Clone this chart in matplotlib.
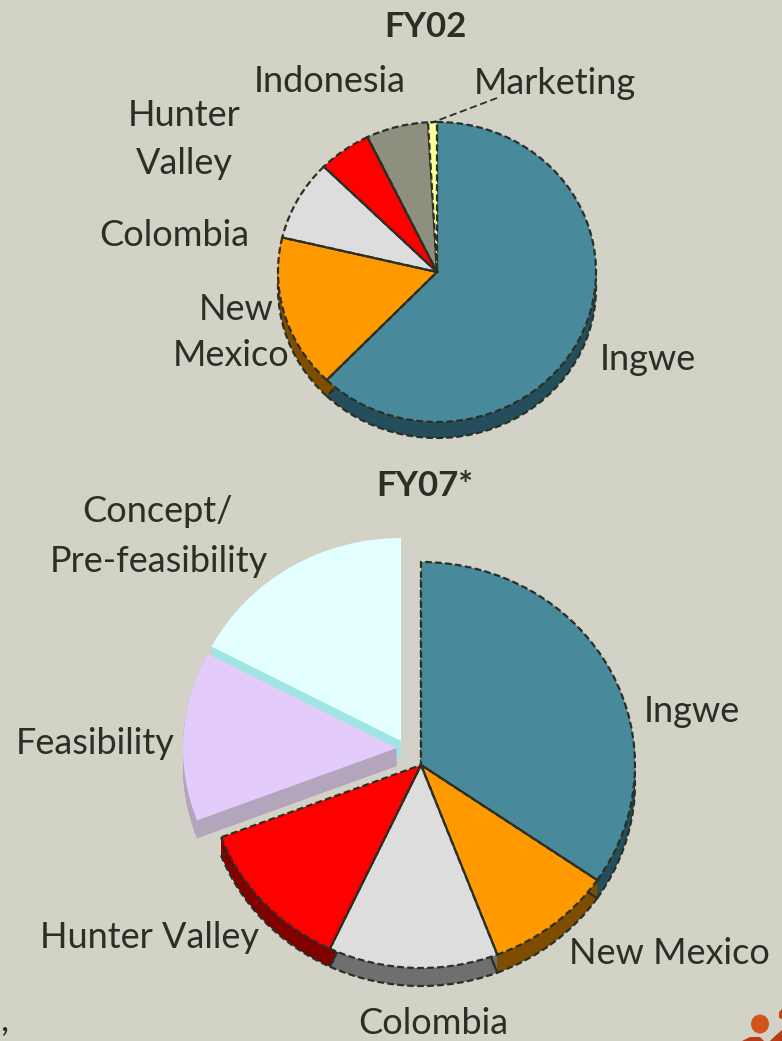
import matplotlib
matplotlib.use('Agg')
import matplotlib.pyplot as plt
from matplotlib.patches import Wedge, Ellipse, Polygon
import numpy as np

W, H = 782, 1041
bg = '#D2D2C6'
ink = '#2B2F24'
dash = (0, (3.0, 1.5))

plt.rcParams['font.family'] = ['Lato', 'Liberation Sans', 'DejaVu Sans']

# FY02 shares, clockwise from 12 o'clock
fy02_labels = ['Ingwe', 'New Mexico', 'Colombia', 'Hunter Valley', 'Indonesia', 'Marketing']
fy02_values = [62.2, 16.5, 8.7, 5.4, 6.3, 0.9]
fy02_colors = ['#488A9C', '#FF9900', '#DDDDDD', '#FF0000', '#8F8F7F', '#FFFF99']
fy02_sides = ['#244E5B', '#7F4D00', '#6F6F6F', '#800000', '#484840', '#808050']

# FY07 shares, clockwise from 12 o'clock
fy07_labels = ['Ingwe', 'New Mexico', 'Colombia', 'Hunter Valley', 'Feasibility', 'Concept/Pre-feasibility']
fy07_values = [34.6, 9.6, 12.8, 12.2, 13.5, 17.3]
fy07_colors = ['#488A9C', '#FF9900', '#DDDDDD', '#FF0000', '#E3CCFB', '#E3FFFF']
fy07_sides = ['#244E5B', '#7F4D00', '#6F6F6F', '#800000', '#B3A5BC', '#9EE6E3']


def pie_axes(fig, cx, cy, rx, ry):
    # axes whose -1..1 box is the top face of the pie
    ax = fig.add_axes([(cx - rx) / W, 1 - (cy + ry) / H, 2 * rx / W, 2 * ry / H])
    ax.set_xlim(-1, 1)
    ax.set_ylim(-1, 1)
    ax.axis('off')
    return ax


def draw_slice(ax, t1, t2, color, side, depth, dx=0, dy=0, outline=True):
    # t1, t2 are degrees clockwise from the top
    a1, a2 = 90 - t2, 90 - t1
    for d in np.linspace(depth, 0.002, 30):
        ax.add_patch(Wedge((dx, dy - d), 1, a1, a2, fc=side, ec='none', clip_on=False, zorder=1))
    if outline:
        ax.add_patch(Wedge((dx, dy - depth), 1, a1, a2, fc='none', ec=ink, lw=1.6,
                           ls=dash, clip_on=False, zorder=1.5))
    ax.add_patch(Wedge((dx, dy), 1, a1, a2, fc=color, ec=ink if outline else 'none',
                       lw=1.6, ls=dash, clip_on=False, zorder=2))


def edges(values):
    cum = np.cumsum([0] + list(values))
    return cum / cum[-1] * 360


def spokes(ax, angles):
    for t in angles:
        r = np.radians(t)
        ax.plot([0, np.sin(r)], [0, np.cos(r)], color=ink, lw=1.5, zorder=3, clip_on=False)


fig = plt.figure(figsize=(W / 100, H / 100), dpi=100, facecolor=bg)

# top pie
ax1 = pie_axes(fig, 437, 272, 159, 150)
e1 = edges(fy02_values)
for i in range(len(fy02_values)):
    draw_slice(ax1, e1[i], e1[i + 1], fy02_colors[i], fy02_sides[i], 16 / 150)
spokes(ax1, e1[1:-2])

# bottom pie, last two slices pulled out and drawn without outline
ax2 = pie_axes(fig, 421, 765, 214, 203)
e2 = edges(fy07_values)
offsets = [(0, 0), (0, 0), (0, 0), (0, 0), (-24 / 214, 17 / 203), (-20 / 214, 24 / 203)]
for i in [5, 4, 0, 1, 2, 3]:
    dx, dy = offsets[i]
    draw_slice(ax2, e2[i], e2[i + 1], fy07_colors[i], fy07_sides[i], 18 / 203, dx, dy,
               outline=i < 4)
spokes(ax2, e2[1:4])

# overlay in pixel coordinates for the text
ov = fig.add_axes([0, 0, 1, 1], facecolor='none')
ov.set_xlim(0, W)
ov.set_ylim(H, 0)
ov.axis('off')

fs = 26
ov.text(425, 27, 'FY02', fontsize=25, fontweight='bold', color=ink, ha='center', va='center')
ov.text(425, 486, 'FY07*', fontsize=25, fontweight='bold', color=ink, ha='center', va='center')

labels = [
    (330, 81, 'Indonesia', 'center'), (555, 84, 'Marketing', 'center'),
    (184, 115, 'Hunter', 'center'), (184, 163, 'Valley', 'center'),
    (174, 236, 'Colombia', 'center'), (236, 309, 'New', 'center'),
    (231, 356, 'Mexico', 'center'), (648, 359, 'Ingwe', 'center'),
    (158, 511, 'Concept/', 'center'), (159, 561, 'Pre-feasibility', 'center'),
    (692, 711, 'Ingwe', 'center'), (95, 743, 'Feasibility', 'center'),
    (149, 937, 'Hunter Valley', 'center'), (669, 953, 'New Mexico', 'center'),
    (433, 1024, 'Colombia', 'center'),
]
for x, y, s, ha in labels:
    ov.text(x, y, s, fontsize=fs, color=ink, ha=ha, va='center')

# leader line to Marketing
ov.plot([497, 431], [98, 123], color=ink, lw=1.3, ls=(0, (4, 2)))

# corner bits cropped in the source
ov.add_patch(Ellipse((760, 1024), 18, 19, fc='#D2541B', ec='none'))
ov.add_patch(Polygon([(742, 1041), (750, 1037), (760, 1037), (764, 1041)], fc='#B93A15', ec='none'))
ov.add_patch(Polygon([(770, 1041), (775, 1036), (782, 1030), (782, 1041)], fc='#B93A15', ec='none'))
ov.add_patch(Polygon([(779, 1012), (782, 1009), (782, 1019), (779, 1018)], fc='#C4451A', ec='none'))
ov.text(0, 1021, ',', fontsize=fs, color=ink, ha='left', va='center')

fig.savefig('out.png', dpi=100, facecolor=bg)
